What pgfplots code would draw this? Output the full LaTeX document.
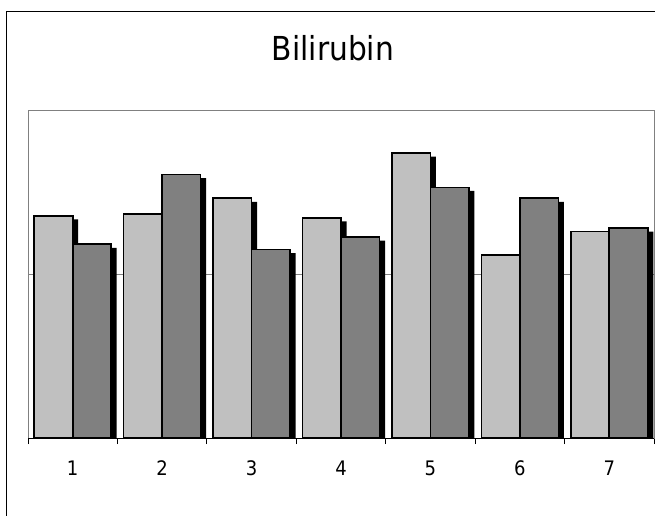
\documentclass[border=0pt]{standalone}
\usepackage{pgfplots}
\pgfplotsset{compat=1.18}
\usepackage{fontspec}
\setmainfont{DejaVu Sans Condensed}

\definecolor{barlight}{HTML}{C0C0C0}
\definecolor{bardark}{HTML}{808080}
\definecolor{framegray}{HTML}{808080}

% black drop shadow behind every bar
\tikzset{barshadow/.style={preaction={fill=black, draw=none,
  transform canvas={shift={(5.5pt,-3.5pt)}}}}}

\begin{document}
\begin{tikzpicture}[x=1pt,y=1pt]
\useasboundingbox (0,0) rectangle (655,515);
\clip (0,0) rectangle (655,515);
% chart frame
\draw[black, line width=1pt] (6.5,503.5) rectangle (670,-10);
% title
\node[anchor=base, font=\fontsize{33}{36}\selectfont, inner sep=0pt] at (333,454) {Bilirubin};

\begin{axis}[
  at={(28pt,77pt)}, anchor=south west,
  scale only axis, width=626pt, height=327.5pt,
  xmin=0.5, xmax=7.5, ymin=0, ymax=2,
  ybar=0pt, bar width=38.5pt,
  axis line style={draw=framegray, line width=1pt},
  ytick={1}, yticklabels={},
  ymajorgrids, major grid style={framegray, line width=1pt},
  major y tick style={draw=none},
  xtick pos=bottom,
  xtick={1,2,3,4,5,6,7}, xticklabels={1,2,3,4,5,6,7},
  minor xtick={0.5,1.5,2.5,3.5,4.5,5.5,6.5,7.5},
  major x tick style={draw=none},
  minor x tick style={black, line width=1pt},
  tick align=outside, minor tick length=6pt, major tick length=6pt,
  /pgf/number format/assume math mode=true,
  xticklabel style={font=\fontsize{20}{24}\selectfont, anchor=center, yshift=-24pt},
  clip=true,
]
\addplot[fill=barlight, draw=black, line width=1.6pt, barshadow] coordinates {
  (1,1.356) (2,1.368) (3,1.464) (4,1.345) (5,1.739) (6,1.118) (7,1.260)};
\addplot[fill=bardark, draw=black, line width=1.6pt, barshadow] coordinates {
  (1,1.183) (2,1.608) (3,1.150) (4,1.226) (5,1.531) (6,1.464) (7,1.281)};
\draw[black, line width=1pt] (axis cs:0.5,0) -- (axis cs:7.5,0);
\end{axis}
\end{tikzpicture}
\end{document}
